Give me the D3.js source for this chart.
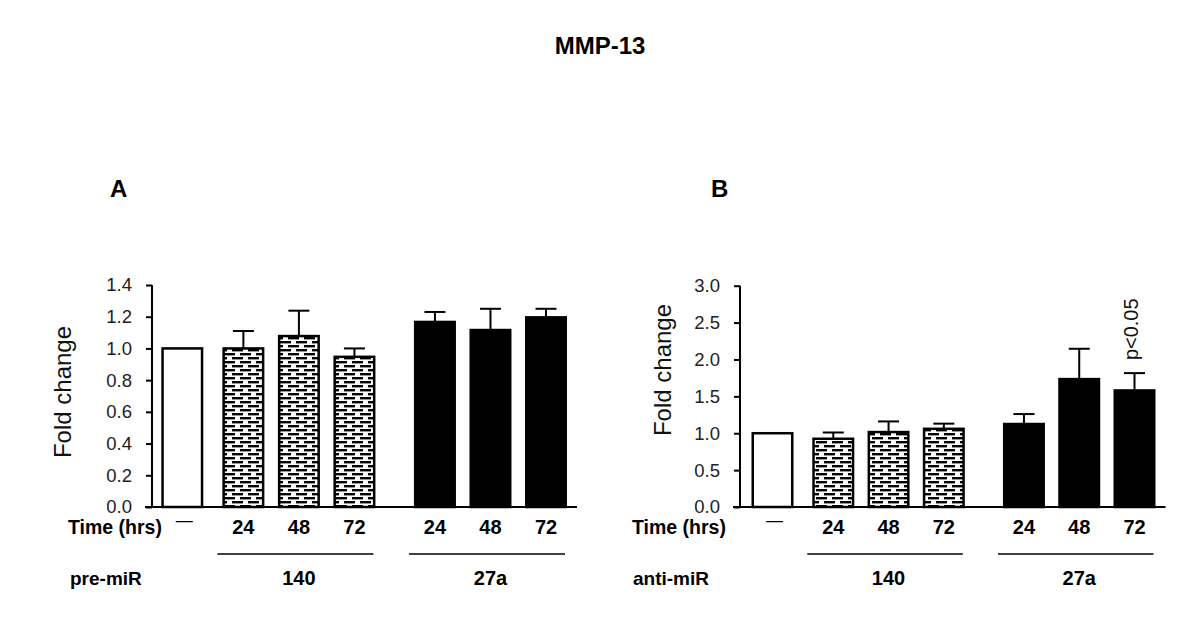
<!DOCTYPE html>
<html><head><meta charset="utf-8">
<script src="https://cdn.jsdelivr.net/npm/d3@7/dist/d3.min.js"></script>
<style>body{margin:0;background:#fff;} text{font-family:"Liberation Sans",Arial,sans-serif;}</style>
</head><body><svg id="c" width="1200" height="635"></svg>
<script>
// ---- data ----
const timeLabels = ["—","24","48","72","24","48","72"];
const barKinds = ["control","140","140","140","27a","27a","27a"];
const groupNames = ["140","27a"];
const valuesA = [1.00, 1.00, 1.078, 0.947, 1.167, 1.116, 1.196];
const errA    = [0,    0.11, 0.16,  0.053, 0.063, 0.134, 0.054];
const valuesB = [1.00, 0.925, 1.016, 1.06, 1.125, 1.734, 1.58];
const errB    = [0,    0.085, 0.144, 0.07, 0.135, 0.411, 0.235];
const ticksA = [0,0.2,0.4,0.6,0.8,1.0,1.2,1.4];
const ticksB = [0,0.5,1.0,1.5,2.0,2.5,3.0];
const title = "MMP-13";

const svg = d3.select("#c");
const defs = svg.append("defs");
const pat = defs.append("pattern").attr("id","dash").attr("patternUnits","userSpaceOnUse")
  .attr("width",16).attr("height",8);
pat.append("rect").attr("width",16).attr("height",8).attr("fill","#fff");
[[0,1],[8,5],[-8,5]].forEach(([x,y])=>pat.append("rect").attr("x",x).attr("y",y).attr("width",11).attr("height",2.4).attr("fill","#000"));

svg.append("text").attr("x",600).attr("y",54).attr("text-anchor","middle")
  .attr("font-size",24).attr("font-weight","bold").text(title);

function slot(i){ return i + (i>=1?0.1:0) + (i>=4?0.45:0); }

function panel(cfg){
  const g = svg.append("g");
  const y = d3.scaleLinear().domain([0,cfg.ymax]).range([cfg.y0,cfg.y1]);
  const x = d3.scaleLinear().domain([0,slot(6)]).range([cfg.c0,cfg.c1]);
  const bw = 42;
  g.append("text").attr("x",cfg.letterX).attr("y",197).attr("font-size",24).attr("font-weight","bold").text(cfg.letter);
  const ax = g.append("g").attr("transform",`translate(${cfg.ax},0)`)
    .call(d3.axisLeft(y).tickValues(cfg.ticks).tickFormat(d3.format(".1f")).tickSize(6).tickPadding(14));
  ax.select(".domain").remove();
  ax.selectAll(".tick line").attr("stroke","#000").attr("stroke-width",2);
  ax.selectAll(".tick text").attr("font-size",18.5).attr("fill","#222").attr("font-family","Liberation Sans, Arial, sans-serif");
  g.append("line").attr("x1",cfg.ax).attr("x2",cfg.ax).attr("y1",y(cfg.ymax)).attr("y2",cfg.y0+1).attr("stroke","#000").attr("stroke-width",2);
  g.append("text").attr("transform",`translate(${cfg.ylx},${cfg.yly}) rotate(-90)`).attr("text-anchor","middle")
    .attr("font-size",24).attr("fill","#111").text("Fold change");
  const data = cfg.vals.map((v,i)=>({v,e:cfg.errs[i],k:barKinds[i],i}));
  g.selectAll("line.err").data(data.filter(d=>d.e>0)).join("line")
    .attr("x1",d=>x(slot(d.i))).attr("x2",d=>x(slot(d.i))).attr("y1",d=>y(d.v)).attr("y2",d=>y(d.v+d.e))
    .attr("stroke","#000").attr("stroke-width",2);
  g.selectAll("line.cap").data(data.filter(d=>d.e>0)).join("line")
    .attr("x1",d=>x(slot(d.i))-10.5).attr("x2",d=>x(slot(d.i))+10.5).attr("y1",d=>y(d.v+d.e)).attr("y2",d=>y(d.v+d.e))
    .attr("stroke","#000").attr("stroke-width",2);
  g.selectAll("rect.bar").data(data).join("rect")
    .attr("x",d=>x(slot(d.i))-bw/2+1.25).attr("width",bw-2.5)
    .attr("y",d=>y(d.v)).attr("height",d=>y(0)-y(d.v))
    .attr("fill",d=>d.k==="control"?"#fff":(d.k==="140"?"url(#dash)":"#000"))
    .attr("stroke","#000").attr("stroke-width",2.5);
  g.append("line").attr("x1",cfg.ax-7).attr("x2",x(slot(6))+bw/2+10).attr("y1",cfg.y0).attr("y2",cfg.y0).attr("stroke","#000").attr("stroke-width",2);
  g.append("text").attr("x",cfg.timeX).attr("y",534).attr("font-size",19.5).attr("font-weight","bold").text("Time (hrs)");
  g.selectAll("text.tl").data(timeLabels).join("text")
    .attr("x",(d,i)=>x(slot(i))+(i===0?2:0)).attr("y",(d,i)=>i===0?526:534).attr("text-anchor","middle")
    .attr("font-size",(d,i)=>i===0?17:20).attr("font-weight",(d,i)=>i===0?"normal":"bold").text(d=>d);
  const groups = groupNames.map(n=>{const idx=barKinds.map((k,i)=>k===n?i:-1).filter(i=>i>=0);return {n,a:idx[0],b:idx[idx.length-1]};});
  g.selectAll("line.grp").data(groups).join("line")
    .attr("x1",d=>x(slot(d.a))-26).attr("x2",d=>x(slot(d.b))+19).attr("y1",554).attr("y2",554)
    .attr("stroke","#000").attr("stroke-width",1.5);
  g.selectAll("text.gn").data(groups).join("text")
    .attr("x",d=>(x(slot(d.a))+x(slot(d.b)))/2).attr("y",585).attr("text-anchor","middle")
    .attr("font-size",20).attr("font-weight","bold").text(d=>d.n);
  g.append("text").attr("x",cfg.miRX).attr("y",585).attr("font-size",19).attr("font-weight","bold").text(cfg.miR);
  if(cfg.note){
    const d = data[6];
    g.append("text").attr("transform",`translate(${x(slot(6))+3},${y(d.v+d.e)-13}) rotate(-90)`)
      .attr("font-size",20).attr("fill","#111").text(cfg.note);
  }
}

panel({letter:"A",letterX:110,ax:152,y0:507,y1:285,ymax:1.4,ticks:ticksA,vals:valuesA,errs:errA,
  c0:182.3,c1:546,ylx:71,yly:392,miR:"pre-miR",timeX:68,miRX:70});
panel({letter:"B",letterX:711,ax:740,y0:507,y1:285.7,ymax:3.0,ticks:ticksB,vals:valuesB,errs:errB,
  c0:772.5,c1:1134.5,ylx:671,yly:370,miR:"anti-miR",timeX:632,miRX:633,note:"p<0.05"});
</script></body></html>
